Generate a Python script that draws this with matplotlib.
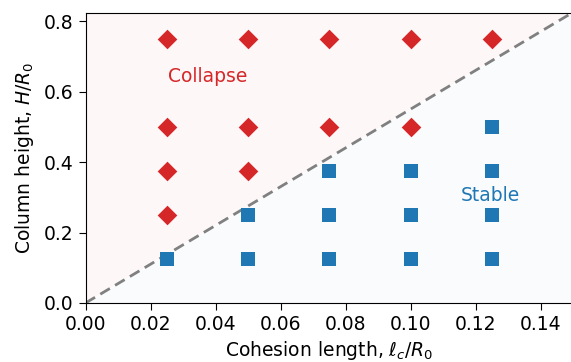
import numpy as np
import matplotlib
matplotlib.use("Agg")
import matplotlib.pyplot as plt

# === DATA ===
collapse_x = [0.025, 0.025, 0.025, 0.025, 0.05, 0.05, 0.05, 0.075, 0.075, 0.10, 0.10, 0.125]
collapse_y = [0.75, 0.50, 0.375, 0.25, 0.75, 0.50, 0.375, 0.75, 0.50, 0.75, 0.50, 0.75]
stable_x = [0.025, 0.05, 0.05, 0.075, 0.075, 0.075, 0.10, 0.10, 0.10, 0.125, 0.125, 0.125, 0.125]
stable_y = [0.125, 0.125, 0.25, 0.125, 0.25, 0.375, 0.125, 0.25, 0.375, 0.125, 0.25, 0.375, 0.50]
BOUNDARY_SLOPE = 5.5  # H/R0 = slope * lc/R0
XLIM = (0.0, 0.15)
YLIM = (0.0, 0.823)

FS = 13.5
plt.rcParams["font.family"] = "DejaVu Sans"
plt.rcParams["mathtext.fontset"] = "dejavusans"

fig = plt.figure(figsize=(5.71, 3.62), dpi=100)
ax = fig.add_axes([85.5 / 571, 59 / 362, 487.5 / 571, 290 / 362])

# regions
xb = np.array(XLIM)
yb = BOUNDARY_SLOPE * xb
ax.fill_between(xb, yb, YLIM[1] + 1, color="tab:red", alpha=0.035, linewidth=0)
ax.fill_between(xb, 0, yb, color="tab:blue", alpha=0.025, linewidth=0)
ax.plot(xb, yb, color="gray", linestyle="--", linewidth=2.0, dashes=(4, 2.2))

ax.scatter(collapse_x, collapse_y, marker="D", s=100, color="tab:red", zorder=3, linewidths=0)
ax.scatter(stable_x, stable_y, marker="s", s=100, color="tab:blue", zorder=3, linewidths=0)

ax.text(0.0375, 0.644, "Collapse", color="tab:red", fontsize=FS, ha="center", va="center")
ax.text(0.1245, 0.304, "Stable", color="tab:blue", fontsize=FS, ha="center", va="center")

ax.set_xlim(*XLIM)
ax.set_ylim(*YLIM)
ax.set_xticks(np.arange(0, 0.141, 0.02))
ax.set_yticks(np.arange(0, 0.81, 0.2))
ax.tick_params(labelsize=FS, length=5)
ax.set_xlabel(r"Cohesion length, $\ell_c/R_0$", fontsize=FS, labelpad=4)
ax.set_ylabel(r"Column height, $H/R_0$", fontsize=FS, labelpad=6)

fig.savefig("out.png", dpi=100)
